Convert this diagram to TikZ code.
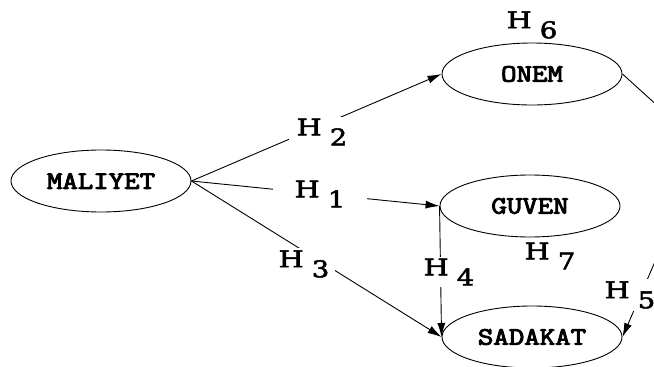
\documentclass[tikz,border=0pt]{standalone}
\usepackage{fontspec}
\newfontfamily\nodefont[FakeBold=3.5]{Latin Modern Mono}
\newfontfamily\hfont[FakeBold=2]{DejaVu Serif}
\usetikzlibrary{shapes.geometric,arrows.meta}
\newcommand\hlab[1]{\scalebox{1.25}[1]{H}\hspace{8pt}\raisebox{-10pt}{\scalebox{1.2}[1]{#1}}}
\newcommand\ntext[1]{\scalebox{1.2}[1]{#1}}
\tikzset{
  var/.style={draw, ellipse, line width=0.9pt, minimum width=180pt, minimum height=62pt, inner sep=0pt, font=\nodefont\fontsize{25}{27}\selectfont},
  lab/.style={fill=white, inner sep=2pt, font=\hfont\fontsize{23}{25}\selectfont},
  arr/.style={line width=0.9pt, -{Latex[length=14pt,width=8pt]}},
  ln/.style={line width=0.9pt}
}
\begin{document}
\begin{tikzpicture}[x=1pt,y=-1pt]
\useasboundingbox (0,0) rectangle (654,367);
\node[var] (mal) at (101,181) {\ntext{MALIYET}};
\node[var] (onem) at (532,74) {\ntext{ONEM}};
\node[var] (guv) at (530,206) {\ntext{GUVEN}};
\node[var] (sad) at (532,337) {\ntext{SADAKAT}};
\coordinate (c1) at (660,108);
\coordinate (c2) at (660,250);
\draw[arr] (mal.east) -- (onem.west);
\draw[arr] (mal.east) -- (guv.west);
\draw[arr] (mal.east) -- (sad.west);
\draw[arr] (guv.west) -- (sad.west);
\draw[arr] (onem.east) -- (c1) -- (c2) -- (sad.east);
\node[lab, inner xsep=8pt] (h2) at (322,132) {\hlab{2}};
\node[lab, inner xsep=22pt] (h1) at (320,194) {\hlab{1}};
\node[lab, inner xsep=6pt] (h3) at (304,264) {\hlab{3}};
\node[lab] (h4) at (449,272) {\hlab{4}};
\node[lab] (h5) at (630,295) {\hlab{5}};
\node[lab, inner sep=1pt] (h6) at (532,25) {\hlab{6}};
\node[lab, inner sep=1pt] (h7) at (550,256) {\hlab{7}};
\end{tikzpicture}
\end{document}
